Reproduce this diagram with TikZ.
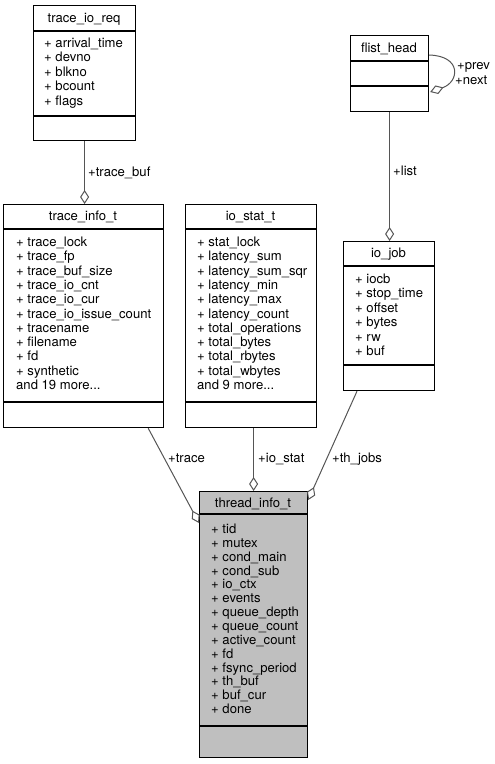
\documentclass[tikz,border=0pt]{standalone}
\usepackage{fontspec}
\setmainfont{TeX Gyre Heros}
\usetikzlibrary{arrows.meta,calc}
\definecolor{Edge}{HTML}{555555}
\definecolor{Self}{HTML}{BFBFBF}
\tikzset{
  cls/.style={draw=black,line width=1.2pt,anchor=north west,inner sep=0pt},
  mem/.style={anchor=base west,inner sep=0pt},
  ttl/.style={anchor=base,inner sep=0pt},
  agg/.style={draw=Edge,line width=1pt,-{Diamond[open,length=14pt,width=9pt,line width=1pt]}},
  lbl/.style={anchor=base west,inner sep=0pt}
}

\begin{document}
\begin{tikzpicture}[x=1pt,y=-1pt,font=\fontsize{13.1}{14.3}\selectfont]
    \useasboundingbox (0,0) rectangle (495,764);
    % class boxes
    \node[cls,minimum width=102pt,minimum height=135pt] (tior) at (33,5) {};
    \node[cls,minimum width=160pt,minimum height=223pt] (tinfo) at (3,204) {};
    \node[cls,minimum width=131pt,minimum height=223pt] (iostat) at (185,204) {};
    \node[cls,minimum width=78pt,minimum height=76pt] (flist) at (350,35) {};
    \node[cls,minimum width=91pt,minimum height=149pt] (iojob) at (343,241) {};
    \node[cls,fill=Self,minimum width=108pt,minimum height=266pt] (thread) at (199,491) {};
    % compartments
    \foreach \b/\s/\t in {tior/26/111,tinfo/25/198,iostat/25/198,flist/26/51,iojob/25/124,thread/23/235}{
      \draw[line width=1.2pt] ($(\b.north west)+(0,\s)$) -- ($(\b.north east)+(0,\s)$);
      \draw[line width=1.2pt] ($(\b.north west)+(0,\t)$) -- ($(\b.north east)+(0,\t)$);
    }
    % titles
    \node[ttl] (tior-t) at (84,22.5) {trace\_io\_req};
    \node[ttl] (tinfo-t) at (83,220.5) {trace\_info\_t};
    \node[ttl] (iostat-t) at (250.5,220.5) {io\_stat\_t};
    \node[ttl] (flist-t) at (389,52.5) {flist\_head};
    \node[ttl] (iojob-t) at (388.5,257.5) {io\_job};
    \node[ttl] (thread-t) at (253,507.5) {thread\_info\_t};
    % members
    \foreach \m [count=\i from 0] in {arrival\_time,devno,blkno,bcount,flags}
      \node[mem] (tior-\i) at (44,47.5+14.4*\i) {+ \m};
    \foreach \m [count=\i from 0] in {trace\_lock,trace\_fp,trace\_buf\_size,trace\_io\_cnt,trace\_io\_cur,trace\_io\_issue\_count,tracename,filename,fd,synthetic}
      \node[mem] (tinfo-\i) at (16,246.5+14.3*\i) {+ \m};
    \node[mem] (tinfo-more) at (16,246.5+143) {and 19 more...};
    \foreach \m [count=\i from 0] in {stat\_lock,latency\_sum,latency\_sum\_sqr,latency\_min,latency\_max,latency\_count,total\_operations,total\_bytes,total\_rbytes,total\_wbytes}
      \node[mem] (iostat-\i) at (197,246.5+14.3*\i) {+ \m};
    \node[mem] (iostat-more) at (197,246.5+143) {and 9 more...};
    \foreach \m [count=\i from 0] in {iocb,stop\_time,offset,bytes,rw,buf}
      \node[mem] (iojob-\i) at (355,283.5+14.4*\i) {+ \m};
    \foreach \m [count=\i from 0] in {tid,mutex,cond\_main,cond\_sub,io\_ctx,events,queue\_depth,queue\_count,active\_count,fd,fsync\_period,th\_buf,buf\_cur,done}
      \node[mem] (thread-\i) at (211,533.5+13.85*\i) {+ \m};
    % aggregations
    \draw[agg] (tior.south) -- (tior.south |- tinfo.north);
    \draw[agg] (flist.south) -- (flist.south |- iojob.north);
    \draw[agg] (thread.north |- iostat.south) -- (thread.north);
    \draw[agg] ($(tinfo.south east)+(-16,0)$) -- ($(thread.north west)+(0,32)$);
    \draw[agg] ($(iojob.south west)+(14,0)$) -- ($(thread.north east)+(0,9)$);
    \draw[agg] ($(flist.north east)+(0,20)$) .. controls ($(flist.north east)+(33,21)$) and ($(flist.north east)+(30,47)$) .. ($(flist.north east)+(1,57)$);
    % edge labels
    \node[lbl] (l-buf) at (88,176.5) {+trace\_buf};
    \node[lbl] (l-prev) at (457,69.5) {+prev};
    \node[lbl] (l-next) at (455,84.5) {+next};
    \node[lbl] (l-list) at (393,175.5) {+list};
    \node[lbl] (l-trace) at (168,462.5) {+trace};
    \node[lbl] (l-stat) at (258,462.5) {+io\_stat};
    \node[lbl] (l-jobs) at (332,462.5) {+th\_jobs};
  \end{tikzpicture}
\end{document}
